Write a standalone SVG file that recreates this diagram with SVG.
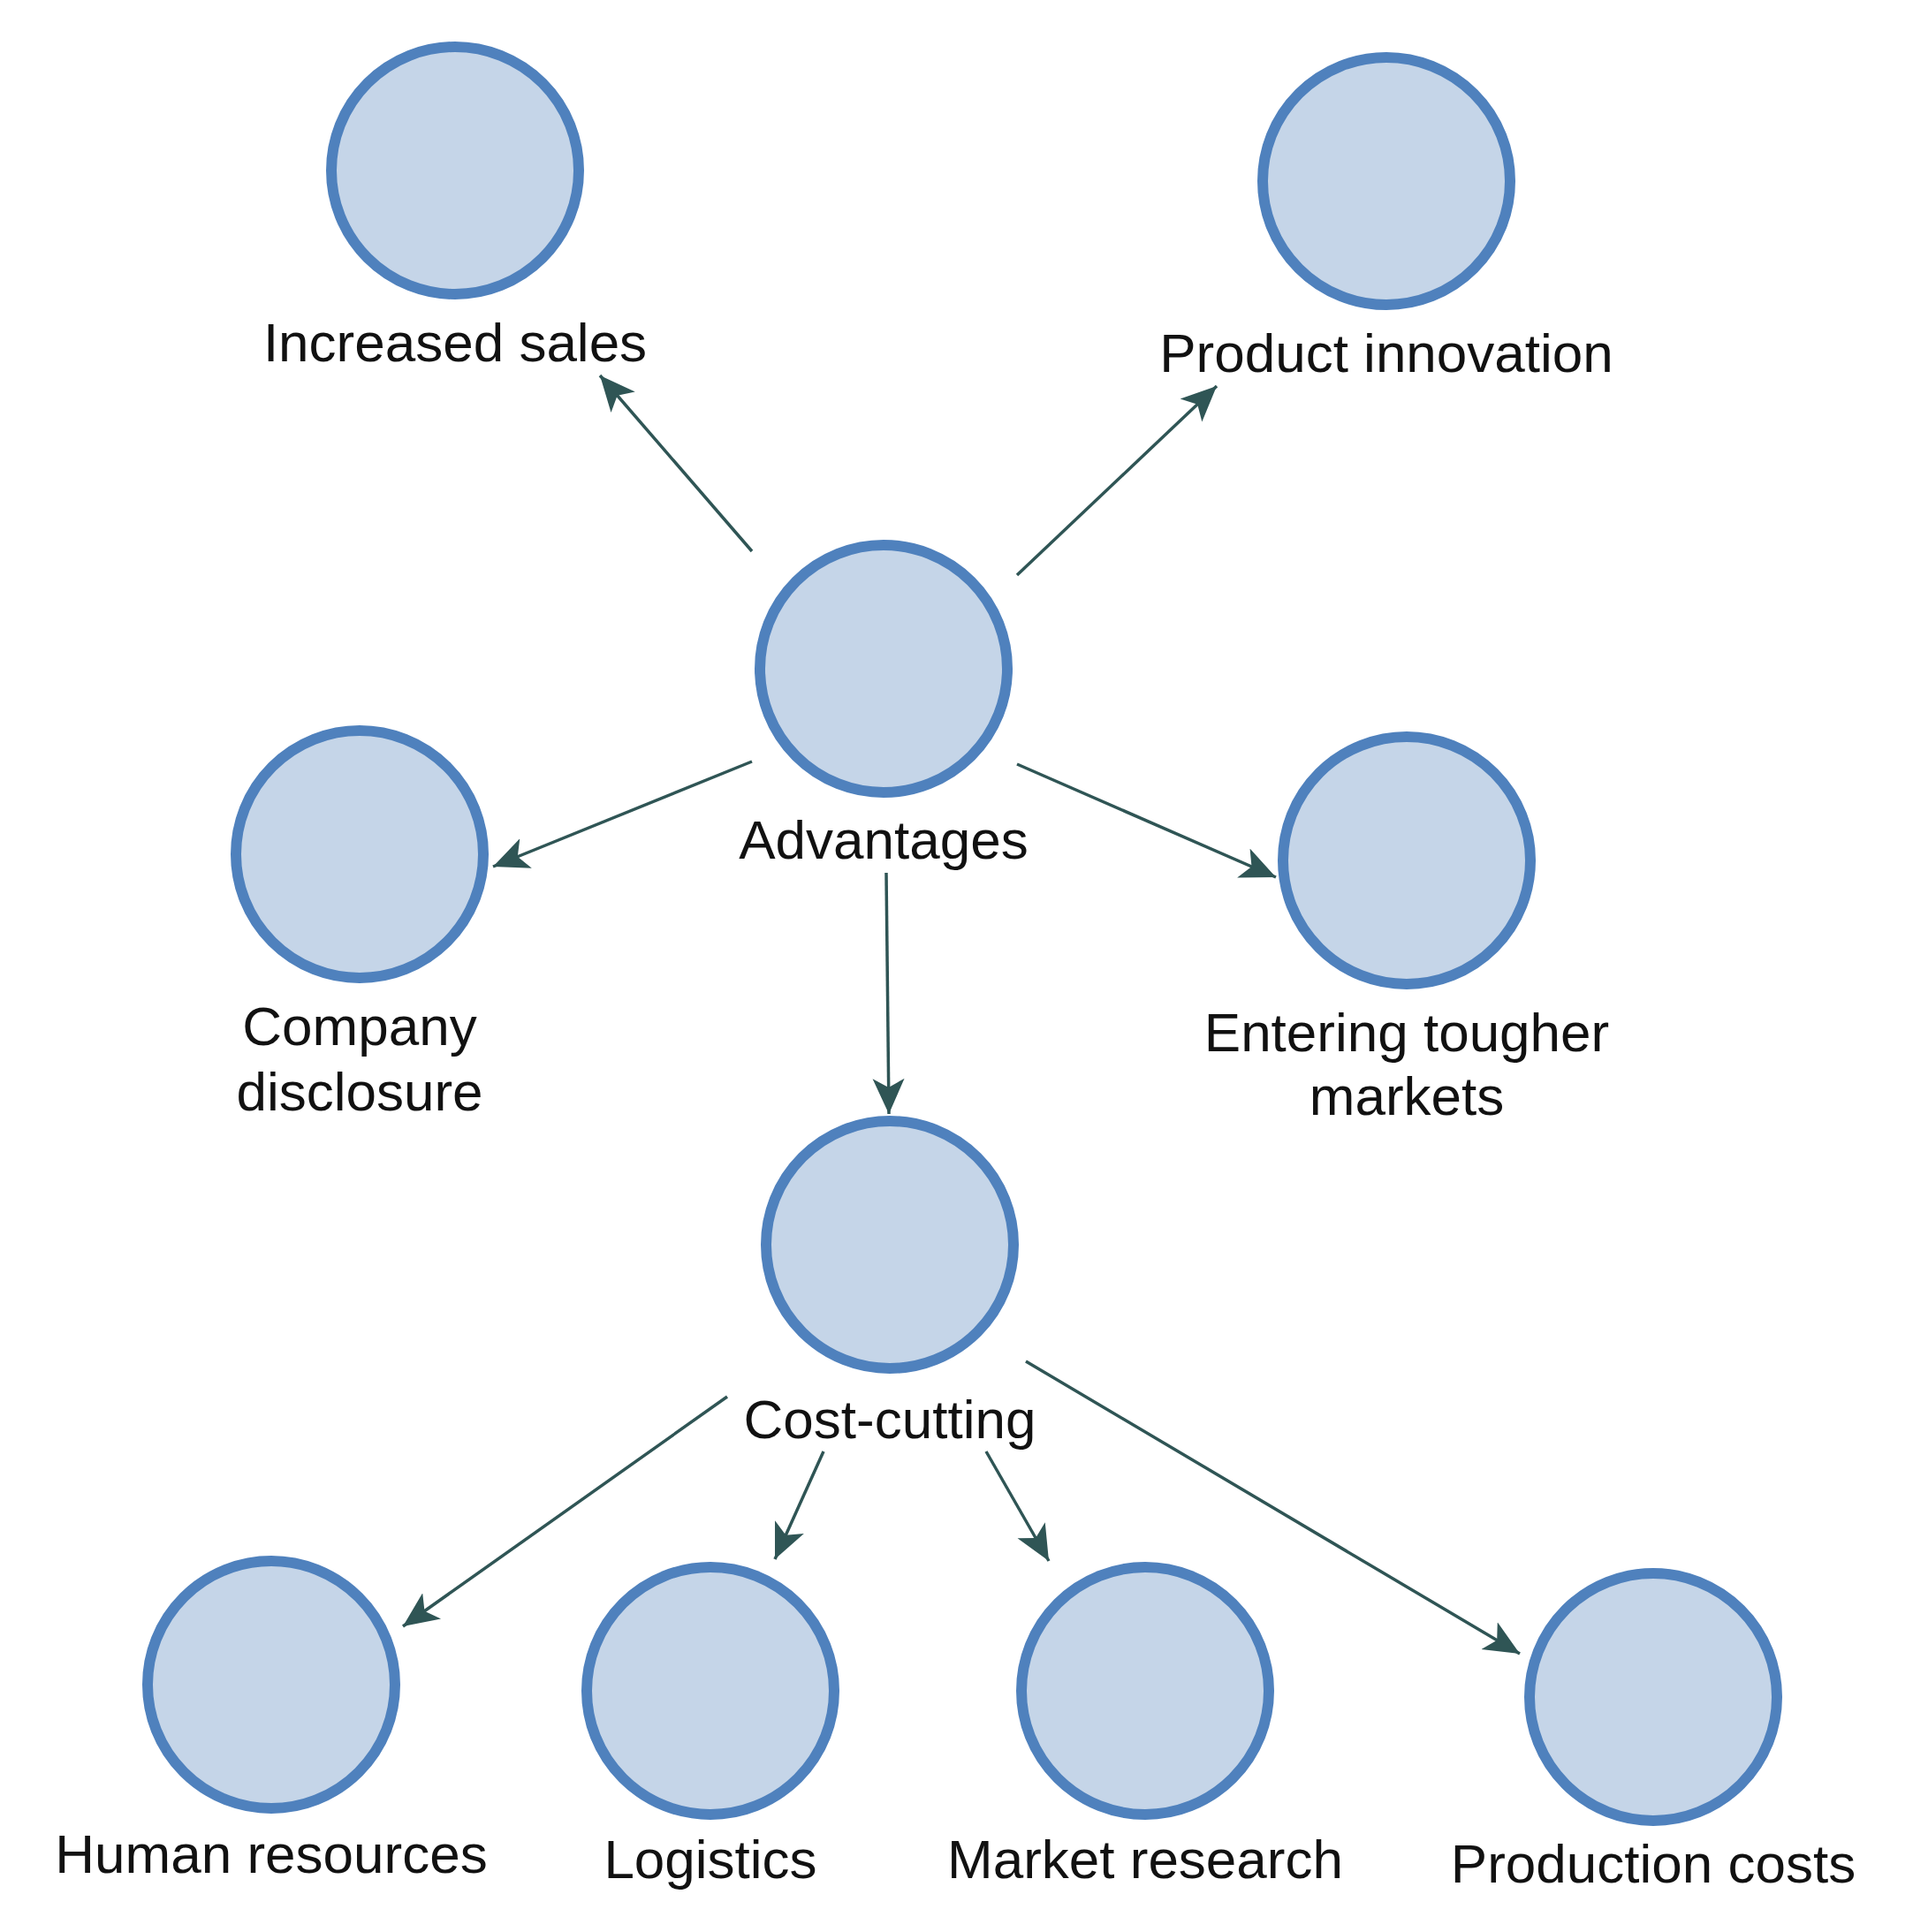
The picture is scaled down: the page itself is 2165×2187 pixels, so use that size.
<svg xmlns="http://www.w3.org/2000/svg" width="2165" height="2187" viewBox="0 0 2165 2187">
<style>
.n{fill:#c5d5e8;stroke:#4f81bd;stroke-width:12}
.t{font-family:"Liberation Sans",Arial,sans-serif;font-size:62px;fill:#111;text-anchor:middle}
.e{stroke:#2f5555;stroke-width:3.5;fill:none;marker-end:url(#a)}
</style>
<defs><marker id="a" markerUnits="userSpaceOnUse" markerWidth="44" markerHeight="44" refX="40" refY="20" orient="auto" viewBox="0 0 44 40"><path d="M0,2 L40,20 L0,38 L10,20 Z" fill="#2f5555"/></marker></defs>
<rect width="2165" height="2187" fill="#fff"/>
<g id="edges">
<line class="e" x1="851" y1="624" x2="679" y2="425"/>
<line class="e" x1="1151" y1="651" x2="1377" y2="437"/>
<line class="e" x1="851" y1="862" x2="558" y2="981"/>
<line class="e" x1="1151" y1="865" x2="1444" y2="993"/>
<line class="e" x1="1003" y1="988" x2="1006" y2="1261"/>
<line class="e" x1="823" y1="1581" x2="456" y2="1841"/>
<line class="e" x1="932" y1="1643" x2="877" y2="1765"/>
<line class="e" x1="1116" y1="1643" x2="1187" y2="1767"/>
<line class="e" x1="1161" y1="1541" x2="1720" y2="1872"/>
</g>
<g id="increased"><circle class="n" cx="515" cy="193" r="140"/><text class="t" x="515" y="409">Increased sales</text></g>
<g id="product"><circle class="n" cx="1569" cy="205" r="140"/><text class="t" x="1569" y="421">Product innovation</text></g>
<g id="advantages"><circle class="n" cx="1000" cy="757" r="140"/><text class="t" x="1000" y="972">Advantages</text></g>
<g id="company"><circle class="n" cx="407" cy="967" r="140"/><text class="t" x="407" y="1183">Company</text><text class="t" x="407" y="1257">disclosure</text></g>
<g id="entering"><circle class="n" cx="1592" cy="974" r="140"/><text class="t" x="1592" y="1190">Entering tougher</text><text class="t" x="1592" y="1262">markets</text></g>
<g id="cost"><circle class="n" cx="1007" cy="1409" r="140"/><text class="t" x="1007" y="1628">Cost-cutting</text></g>
<g id="hr"><circle class="n" cx="307" cy="1907" r="140"/><text class="t" x="307" y="2120">Human resources</text></g>
<g id="logistics"><circle class="n" cx="804" cy="1914" r="140"/><text class="t" x="804" y="2126">Logistics</text></g>
<g id="market"><circle class="n" cx="1296" cy="1914" r="140"/><text class="t" x="1296" y="2126">Market research</text></g>
<g id="production"><circle class="n" cx="1871" cy="1921" r="140"/><text class="t" x="1871" y="2131">Production costs</text></g>
</svg>
